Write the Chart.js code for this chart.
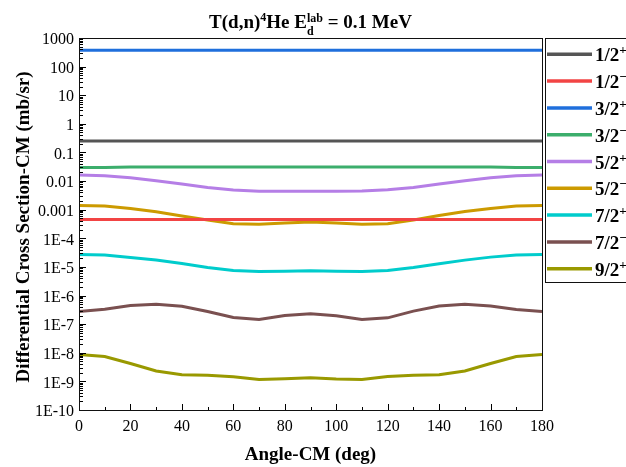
<!DOCTYPE html>
<html><head><meta charset="utf-8">
<script src="https://cdn.jsdelivr.net/npm/chart.js@4"></script>
<style>html,body{margin:0;padding:0;background:#fff}#wrap{width:626px;height:467px;position:relative;overflow:hidden}</style>
</head><body><div id="wrap"><canvas id="c" width="626" height="467"></canvas></div>
<script>
const angles = [0,10,20,30,40,50,60,70,80,90,100,110,120,130,140,150,160,170,180];
const seriesNames = ['1/2','1/2','3/2','3/2','5/2','5/2','7/2','7/2','9/2'];
const seriesParity = ['+','-','+','-','+','-','+','-','+'];
const seriesColors = ['#555555','#f24444','#1f6fdc','#3cae6c','#b57ee6','#cc9a00','#00cccc','#7a5050','#999900'];
const j1_2p = [0.25,0.25,0.25,0.25,0.25,0.25,0.25,0.25,0.25,0.25,0.25,0.25,0.25,0.25,0.25,0.25,0.25,0.25,0.25];
const j1_2m = [4.5e-4,4.5e-4,4.5e-4,4.5e-4,4.5e-4,4.5e-4,4.5e-4,4.5e-4,4.5e-4,4.5e-4,4.5e-4,4.5e-4,4.5e-4,4.5e-4,4.5e-4,4.5e-4,4.5e-4,4.5e-4,4.5e-4];
const j3_2p = [375,375,375,375,375,375,375,375,375,375,375,375,375,375,375,375,375,375,375];
const j3_2m = [0.030,0.030,0.031,0.031,0.031,0.031,0.031,0.031,0.031,0.031,0.031,0.031,0.031,0.031,0.031,0.031,0.031,0.030,0.030];
const j5_2p = [0.0162,0.0154,0.0131,0.0103,0.0079,0.0060,0.0049,0.0044,0.0044,0.0044,0.0044,0.0045,0.0050,0.0060,0.0079,0.0103,0.0131,0.0154,0.0162];
const j5_2m = [1.41e-3,1.34e-3,1.11e-3,8.5e-4,6.0e-4,4.4e-4,3.2e-4,3.1e-4,3.4e-4,3.7e-4,3.4e-4,3.1e-4,3.2e-4,4.4e-4,6.3e-4,8.7e-4,1.11e-3,1.34e-3,1.41e-3];
const j7_2p = [2.74e-5,2.6e-5,2.15e-5,1.73e-5,1.32e-5,9.6e-6,7.5e-6,6.9e-6,7.1e-6,7.3e-6,7.1e-6,6.9e-6,7.5e-6,9.6e-6,1.3e-5,1.73e-5,2.2e-5,2.6e-5,2.74e-5];
const j7_2m = [2.77e-7,3.3e-7,4.5e-7,5.0e-7,4.2e-7,2.77e-7,1.71e-7,1.45e-7,2.0e-7,2.3e-7,1.95e-7,1.45e-7,1.66e-7,2.85e-7,4.3e-7,5.0e-7,4.3e-7,3.25e-7,2.77e-7];
const j9_2p = [8.7e-9,7.4e-9,4.2e-9,2.3e-9,1.7e-9,1.65e-9,1.45e-9,1.17e-9,1.23e-9,1.33e-9,1.2e-9,1.17e-9,1.47e-9,1.65e-9,1.7e-9,2.3e-9,4.2e-9,7.4e-9,8.7e-9];
const allSeries = [j1_2p,j1_2m,j3_2p,j3_2m,j5_2p,j5_2m,j7_2p,j7_2m,j9_2p];
const yTickValues = [1e-10,1e-9,1e-8,1e-7,1e-6,1e-5,1e-4,1e-3,1e-2,1e-1,1,10,100,1000];
const yTickLabels = ['1E-10','1E-9','1E-8','1E-7','1E-6','1E-5','1E-4','0.001','0.01','0.1','1','10','100','1000'];
const xTickValues = [0,20,40,60,80,100,120,140,160,180];
const titleText = {a:'T(d,n)', sup1:'4', b:'He E', sub:'d', sup2:'lab', c:' = 0.1 MeV'};
const xTitle = 'Angle-CM (deg)';
const yTitle = 'Differential Cross Section-CM (mb/sr)';

const SERIF = '"Liberation Serif","Times New Roman",serif';

const datasets = allSeries.map((d,i)=>({
  label: seriesNames[i]+seriesParity[i],
  data: d.map((v,k)=>({x:angles[k], y:v})),
  borderColor: seriesColors[i],
  backgroundColor: seriesColors[i],
  borderWidth: 3,
  pointRadius: 0,
  tension: 0,
  fill: false
}));

const decor = {
  id:'decor',
  afterDraw(chart){
    const {ctx, chartArea:a, scales:{x,y}} = chart;
    ctx.save();
    ctx.strokeStyle='#000'; ctx.lineWidth=1;
    for (let e=-10;e<=3;e++){
      for (let m=1;m<=9;m++){
        const v=m*Math.pow(10,e);
        if (v>1000.0001) break;
        const py=Math.round(y.getPixelForValue(v))+0.5;
        const len = m===1?7:4;
        ctx.beginPath(); ctx.moveTo(a.left, py); ctx.lineTo(a.left+len, py); ctx.stroke();
      }
    }
    for (let v=0; v<=180; v+=10){
      const px=Math.round(x.getPixelForValue(v))+0.5;
      const len = (v%20===0)?6:3;
      ctx.beginPath(); ctx.moveTo(px, a.bottom); ctx.lineTo(px, a.bottom-len); ctx.stroke();
    }
    ctx.strokeStyle='#111';
    ctx.strokeRect(Math.round(a.left)+0.5, Math.round(a.top)+0.5, Math.round(a.right-a.left), Math.round(a.bottom-a.top));

    // title
    ctx.fillStyle='#000';
    ctx.textBaseline='alphabetic';
    const big='bold 19px '+SERIF, small='bold 12px '+SERIF;
    ctx.font=big; const wa=ctx.measureText(titleText.a).width, wb=ctx.measureText(titleText.b).width, wc=ctx.measureText(titleText.c).width;
    ctx.font=small; const w4=ctx.measureText(titleText.sup1).width, wsub=Math.max(ctx.measureText(titleText.sub).width, ctx.measureText(titleText.sup2).width);
    const total=wa+w4+wb+wsub+wc;
    let tx=(a.left+a.right)/2-total/2; const ty=28;
    ctx.textAlign='left';
    ctx.font=big; ctx.fillText(titleText.a,tx,ty); tx+=wa;
    ctx.font=small; ctx.fillText(titleText.sup1,tx,ty-7); tx+=w4;
    ctx.font=big; ctx.fillText(titleText.b,tx,ty); tx+=wb;
    ctx.font=small; ctx.fillText(titleText.sup2,tx,ty-6); ctx.fillText(titleText.sub,tx,ty+7); tx+=wsub;
    ctx.font=big; ctx.fillText(titleText.c,tx,ty);

    // axis titles
    ctx.font='bold 19px '+SERIF;
    ctx.textAlign='center';
    ctx.fillText(xTitle,(a.left+a.right)/2,460);
    ctx.save();
    ctx.translate(29,(a.top+a.bottom)/2+3);
    ctx.rotate(-Math.PI/2);
    ctx.fillText(yTitle,0,0);
    ctx.restore();

    // legend
    const lx=a.right+3, ly=a.top, lw=200, rowH=26.8;
    const lh=rowH*seriesNames.length+3;
    ctx.strokeStyle='#111'; ctx.lineWidth=1;
    ctx.strokeRect(Math.round(lx)+0.5, Math.round(ly)+0.5, lw, Math.round(lh));
    chart.data.datasets.forEach((ds,i)=>{
      const cy=ly+16.3+i*rowH;
      ctx.strokeStyle=ds.borderColor; ctx.lineWidth=3.5;
      ctx.beginPath(); ctx.moveTo(lx+2,cy); ctx.lineTo(lx+47,cy); ctx.stroke();
      ctx.fillStyle='#000'; ctx.textAlign='left'; ctx.textBaseline='alphabetic';
      ctx.font='bold 19px '+SERIF;
      const tx0=lx+50, base=cy+7;
      ctx.fillText(seriesNames[i],tx0,base);
      const w=ctx.measureText(seriesNames[i]).width;
      ctx.font='bold 13px '+SERIF;
      ctx.fillText(seriesParity[i]==='-'?'\u2212':'+',tx0+w,base-7);
    });
    ctx.restore();
  }
};

new Chart(document.getElementById('c'),{
  type:'line',
  data:{datasets},
  options:{
    responsive:false, animation:false, devicePixelRatio:1,
    layout:{padding:{left:0,top:38,right:84,bottom:0}},
    plugins:{legend:{display:false}, title:{display:false}, tooltip:{enabled:false}},
    scales:{
      x:{type:'linear', min:0, max:180,
        afterFit(s){ s.height=57; },
        afterBuildTicks(s){ s.ticks=xTickValues.map(v=>({value:v})); },
        grid:{display:false, drawTicks:false}, border:{display:false},
        ticks:{padding:7, autoSkip:false, maxRotation:0, color:'#000', font:{family:SERIF, size:16}}
      },
      y:{type:'logarithmic', min:1e-10, max:1000,
        afterFit(s){ s.width=79; },
        afterBuildTicks(s){ s.ticks=yTickValues.map(v=>({value:v})); },
        grid:{display:false, drawTicks:false}, border:{display:false},
        ticks:{padding:5, labelOffset:2, autoSkip:false, color:'#000', font:{family:SERIF, size:16},
          callback:(v)=>{ const i=yTickValues.indexOf(v); return i>=0?yTickLabels[i]:''; }}
      }
    }
  },
  plugins:[decor]
});
</script>
</body></html>
